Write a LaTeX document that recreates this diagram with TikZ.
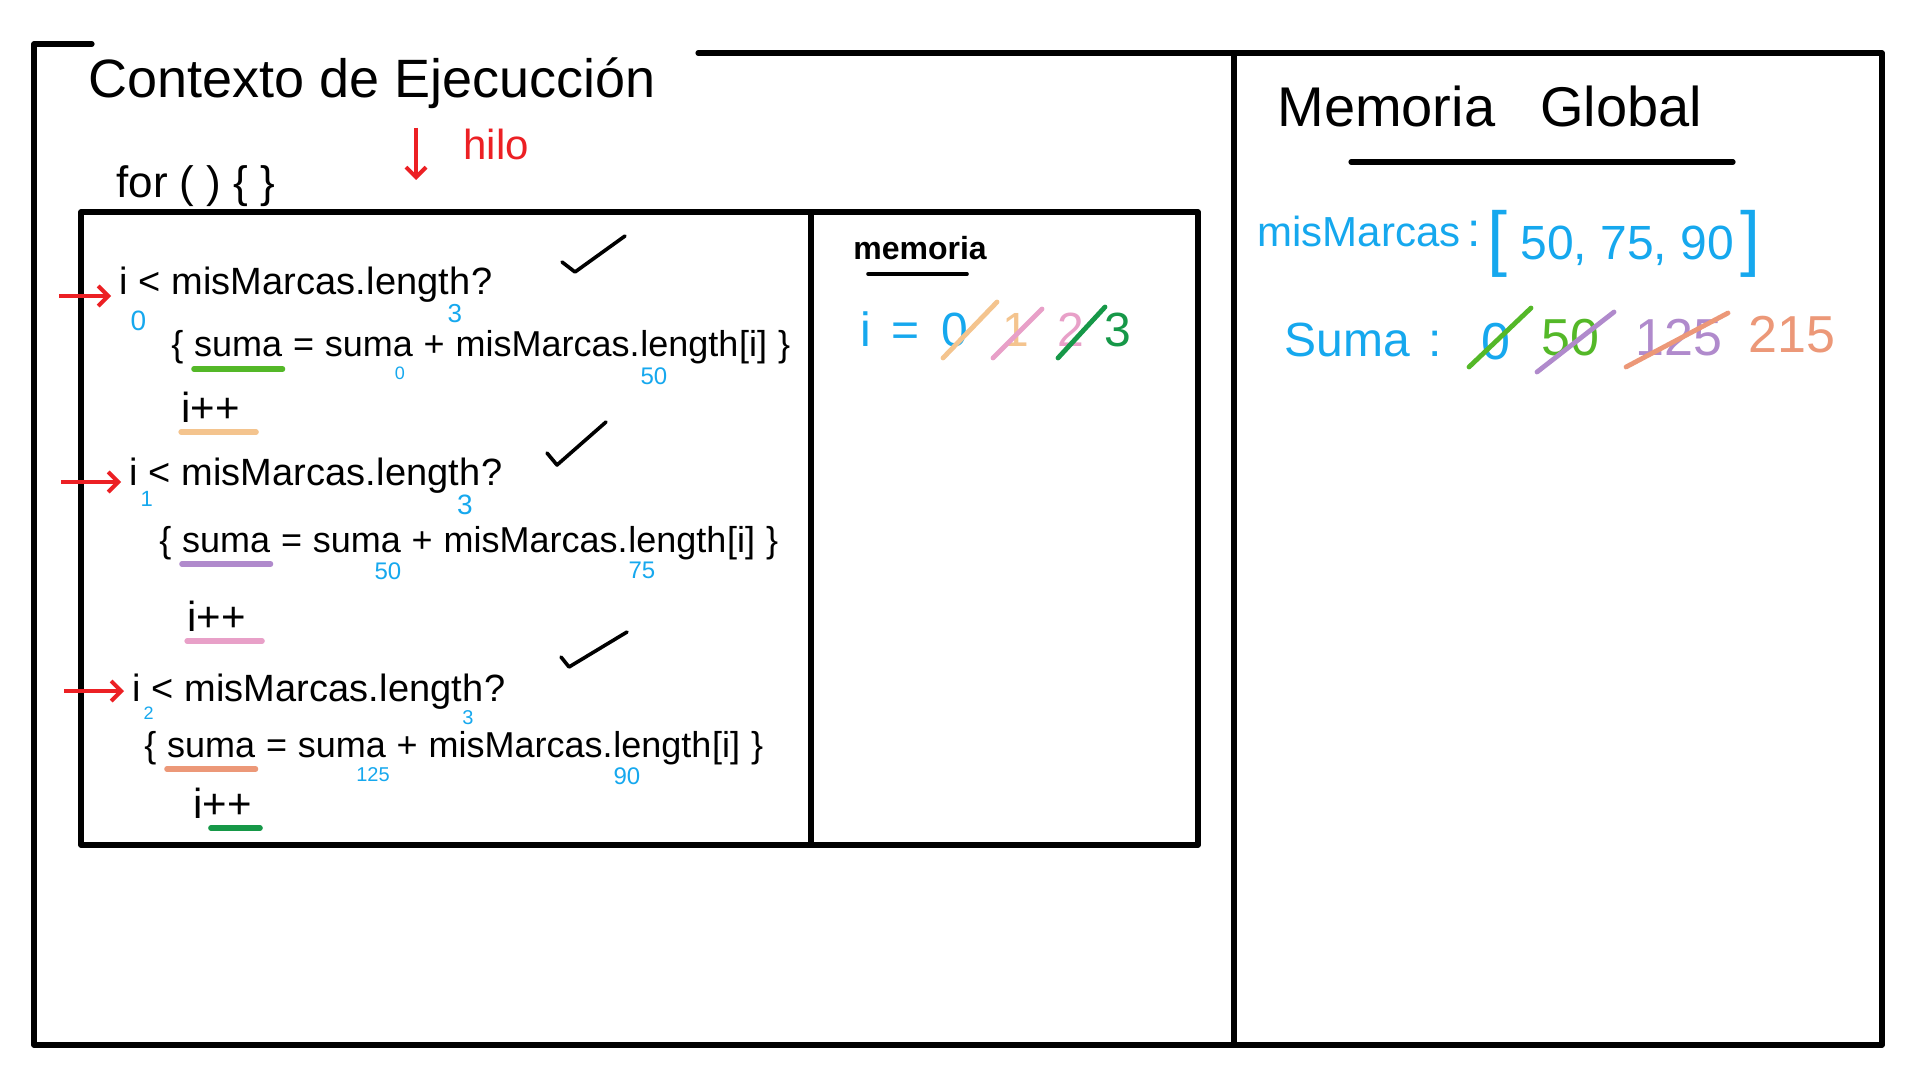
\documentclass[tikz,border=0pt]{standalone}
\usepackage{fontspec}
\setmainfont{Liberation Sans}
\usetikzlibrary{arrows.meta,calc}
\definecolor{hblue}{RGB}{22,168,238}
\definecolor{hred}{RGB}{236,32,36}
\definecolor{hgreen}{RGB}{84,184,40}
\definecolor{hdgreen}{RGB}{22,152,72}
\definecolor{hpeach}{RGB}{244,196,142}
\definecolor{hpink}{RGB}{232,160,200}
\definecolor{hpurple}{RGB}{176,138,204}
\definecolor{hsalmon}{RGB}{236,152,120}
\tikzset{
  frame/.style={line width=2.6pt, line cap=round, line join=round},
  cA/.style={inner sep=0pt, anchor=base west, font=\fontsize{19}{22}\selectfont},
  cB/.style={inner sep=0pt, anchor=base west, font=\fontsize{18}{21}\selectfont},
  cC/.style={inner sep=0pt, anchor=base west, font=\fontsize{21}{24}\selectfont},
  ann/.style={inner sep=0pt, text=hblue, font=\fontsize{#1}{#1}\selectfont},
  ann/.default=12,
  ul/.style={line width=2.6pt, line cap=round, draw=#1},
  strike/.style={line width=2.4pt, line cap=round, draw=#1},
  tick/.style={line width=1.8pt, line cap=round, line join=round},
  redarrow/.style={draw=hred, line width=2pt, -{Straight Barb[length=5pt,width=10pt,line width=2pt]}},
  big/.style={inner sep=0pt, font=\fontsize{#1}{#1}\selectfont},
}
% condition line: #1 prefix, #2 position, #3 i-value, #4 size of i-value, #5 size of the 3, #6 drop of i-value
\newcommand\condline[6]{%
  \node[cA] (#1i) at (#2) {i};
  \node[cA] (#1lt) at ([xshift=5pt]#1i.base east) {<};
  \node[cA] (#1mm) at ([xshift=5pt]#1lt.base east) {misMarcas.};
  \node[cA] (#1len) at (#1mm.base east) {length};
  \node[cA] (#1q) at (#1len.base east) {?};
  \node[ann=#4, anchor=north west, xshift=1pt, yshift=-#6] (#1ai) at (#1i.base east) {#3};
  \node[ann=#5, anchor=north, yshift=-0.5pt] (#1an) at ($(#1len.south west)!0.85!(#1len.south east)$) {3};
}
% sum line: #1 prefix, #2 position, #3 underline colour, #4 suma value, #5 element value, #6 size of suma value
\newcommand\sumline[6]{%
  \node[cB] (#1b) at (#2) {\{};
  \node[cB] (#1s1) at ([xshift=5pt]#1b.base east) {suma};
  \node[cB] (#1eq) at ([xshift=5pt]#1s1.base east) {=};
  \node[cB] (#1s2) at ([xshift=5pt]#1eq.base east) {suma};
  \node[cB] (#1pl) at ([xshift=5pt]#1s2.base east) {+};
  \node[cB] (#1mm) at ([xshift=5pt]#1pl.base east) {misMarcas.};
  \node[cB] (#1len) at (#1mm.base east) {length};
  \node[cB] (#1ix) at (#1len.base east) {[i]};
  \node[cB] (#1e) at ([xshift=5pt]#1ix.base east) {\}};
  \draw[ul=#3] ([yshift=-6pt]#1s1.base west) -- ([yshift=-6pt]#1s1.base east);
  \node[ann=#6, anchor=north, yshift=-5pt] (#1as) at ($(#1s2.base west)!0.85!(#1s2.base east)$) {#4};
  \node[ann, anchor=north, xshift=7pt, yshift=-1pt] (#1al) at (#1len.south west) {#5};
}
\begin{document}
\begin{tikzpicture}[x=0.5pt,y=-0.5pt]
\fill[white] (0,0) rectangle (1920,1080);
\useasboundingbox (0,0) rectangle (1920,1080);

% outer frame
\draw[frame] (92,44) -- (34,44) -- (34,1045) -- (1882,1045) -- (1882,53) -- (698,53);
\draw[frame] (1234,53) -- (1234,1045);

% title
\node[big=27, anchor=base west] (title) at (88,98) {Contexto de Ejecucción};

% hilo
\coordinate (h0) at (416,128);
\coordinate (h1) at (416,180);
\draw[redarrow] (h0) -- (h1);
\node[big=21, anchor=base west, text=hred] (hilo) at (463,160) {hilo};

% for
\node[big=22, anchor=base west] (for) at (116,198) {for ( ) \{ \}};

% inner box
\draw[frame] (81,212) rectangle (1198,845);
\draw[frame] (811,212) -- (811,845);

% iteration 1
\condline{r1}{119,295}{0}{14}{13}{8pt}
\sumline{r1}{171,357}{hgreen}{0}{50}{9}
\node[cC] (r1pp) at (181,422) {i++};
\draw[ul=hpeach] ([yshift=-5pt]r1pp.base west) -- ([xshift=8pt,yshift=-5pt]r1pp.base east);
\coordinate (a1) at (59,296);
\draw[redarrow, shorten >=4pt] (a1) -- (a1 -| r1i.west);
\draw[tick] (562,262) -- (575,272) -- (625,236);

% iteration 2
\condline{r2}{129,485}{1}{11}{14}{3pt}
\sumline{r2}{159,552}{hpurple}{50}{75}{12}
\node[cC] (r2pp) at (187,631) {i++};
\draw[ul=hpink] ([yshift=-5pt]r2pp.base west) -- ([xshift=8pt,yshift=-5pt]r2pp.base east);
\coordinate (a2) at (61,482);
\draw[redarrow, shorten >=4pt] (a2) -- (a2 -| r2i.west);
\draw[tick] (547,453) -- (557,465) -- (606,422);

% iteration 3
\condline{r3}{132,701}{2}{9}{10}{3pt}
\sumline{r3}{144,757}{hsalmon}{125}{90}{10}
\node[cC] (r3pp) at (193,818) {i++};
\coordinate (r3u) at ($(r3pp.base west)!0.3!(r3pp.base east)$);
\draw[ul=hdgreen] ([yshift=-5pt]r3u) -- ([xshift=4pt,yshift=-5pt]r3pp.base east);
\coordinate (a3) at (64,691);
\draw[redarrow, shorten >=4pt] (a3) -- (a3 -| r3i.west);
\draw[tick] (561,657) -- (569,667) -- (627,632);

% memoria (local)
\node[big=16, anchor=base west, font=\fontsize{16}{16}\selectfont\bfseries] (mem) at (853,260) {memoria};
\draw[line width=1.8pt, line cap=round] (868,274) -- (967,274);
\node[big=24, anchor=base, text=hblue] (mi) at (866,347) {i};
\node[big=24, anchor=base, text=hblue] (meq) at (906,347) {=};
\node[big=24, anchor=base, text=hblue] (m0) at (955,347) {0};
\node[big=24, anchor=base, text=hpeach] (m1) at (1016,347) {1};
\node[big=24, anchor=base, text=hpink] (m2) at (1071,347) {2};
\node[big=24, anchor=base, text=hdgreen] (m3) at (1118,347) {3};
\draw[strike=hpeach] (943,358) -- (997,302);
\draw[strike=hpink] (993,358) -- (1042,309);
\draw[strike=hdgreen] (1058,358) -- (1105,307);

% memoria global
\node[big=28, anchor=base west] (mg1) at (1277,127) {Memoria};
\node[big=28, anchor=base west] (mg2) at (1540,127) {Global};
\draw[line width=2.6pt, line cap=round] (1351,162) -- (1733,162);

\node[big=21, anchor=base west, text=hblue] (gmm) at (1257,247) {misMarcas};
\node[big=24, anchor=base west, text=hblue] (gcol) at ([xshift=3pt]gmm.base east) {:};
\node[big=36, anchor=base west, text=hblue] (glb) at (1487,263) {[};
\node[big=24, anchor=base west, text=hblue] (gnum) at (1520,260) {50, 75, 90};
\node[big=36, anchor=base west, text=hblue] (grb) at ([xshift=3pt]gnum.base east |- glb.base) {]};

\node[big=24, anchor=base west, text=hblue] (gs) at (1284,357) {Suma};
\node[big=24, anchor=base west, text=hblue] (gscol) at (1428,357) {:};
\node[big=26, anchor=base, text=hblue] (g0) at (1496,359) {0};
\node[big=26, anchor=base, text=hgreen] (g50) at (1570,356) {50};
\node[big=26, anchor=base, text=hpurple] (g125) at (1679,356) {125};
\node[big=26, anchor=base, text=hsalmon] (g215) at (1792,352) {215};
\draw[strike=hgreen] (1469,367) -- (1531,308);
\draw[strike=hpurple] (1537,372) -- (1614,312);
\draw[strike=hsalmon] (1626,367) -- (1728,313);
\end{tikzpicture}
\end{document}
